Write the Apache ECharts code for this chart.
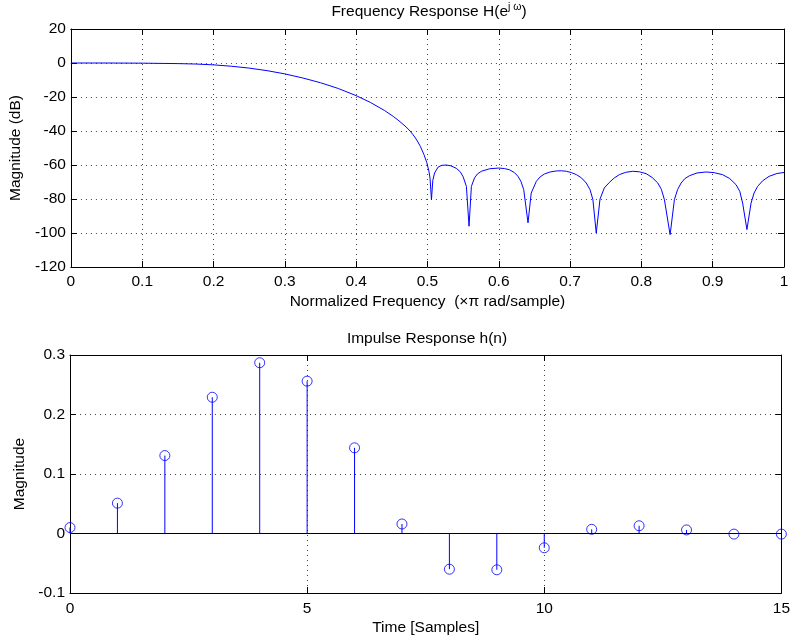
<!DOCTYPE html>
<html>
<head>
<meta charset="utf-8">
<script src="https://cdn.jsdelivr.net/npm/echarts@6/dist/echarts.min.js"></script>
<style>
  html, body { margin: 0; padding: 0; background: #fff; }
  #chart { width: 793px; height: 643px; }
</style>
</head>
<body>
<div id="chart"></div>
<script>
// magnitude response: normalized frequency (x pi rad/sample) and dB
const freqPts = [
  0, 0.05, 0.1, 0.15, 0.175, 0.2, 0.225, 0.25, 0.275, 0.3, 0.325, 0.35, 0.375, 0.4,
  0.42, 0.44, 0.452, 0.46, 0.47, 0.4756, 0.48, 0.485, 0.49, 0.495, 0.499, 0.502, 0.5036, 0.5056,
  0.5075, 0.510, 0.515, 0.520, 0.5266, 0.533, 0.5406, 0.546, 0.550, 0.5546, 0.5583,
  0.5616, 0.566, 0.570, 0.5756, 0.5873, 0.600, 0.608, 0.615, 0.622, 0.627, 0.631, 0.635, 0.641,
  0.6455, 0.6527, 0.658, 0.664, 0.672, 0.6807, 0.688, 0.695, 0.702, 0.709, 0.716, 0.7227, 0.728, 0.732, 0.7367,
  0.742, 0.748, 0.755, 0.762, 0.769, 0.778, 0.788, 0.797, 0.8067, 0.815, 0.823, 0.828, 0.8323, 0.8403,
  0.8463, 0.8507, 0.8557, 0.861, 0.8674, 0.878, 0.8907, 0.902, 0.914, 0.924, 0.9328, 0.938, 0.942, 0.948,
  0.9538, 0.958, 0.963, 0.970, 0.979, 0.990, 1.0
];
const magDb = [
  0, 0, -0.1, -0.35, -0.6, -1.1, -1.9, -3.0, -4.5, -6.4, -8.8, -11.6, -15.0, -19.2,
  -23.2, -28.0, -31.4, -34.0, -37.6, -40.0, -42.3, -45.3, -49.0, -53.8, -58.5, -63.5, -67.7, -80.4,
  -69.0, -64.7, -61.2, -60.2, -60.0, -60.5, -62.0, -64.0, -66.9, -72.6, -96,
  -72.6, -67.6, -65.3, -63.7, -62.2, -61.8, -62.1, -62.8, -64.5, -66.7, -69.6, -74.5, -94,
  -76.5, -69.6, -67.0, -65.3, -64.1, -63.5, -63.4, -63.7, -64.5, -65.7, -67.6, -70.6, -74.5, -80.4, -100,
  -80.0, -73.5, -70.3, -67.6, -65.7, -64.3, -63.7, -64.0, -65.1, -67.3, -70.6, -74.3, -80.4, -101,
  -80.4, -74.5, -70.6, -68.0, -66.3, -64.7, -64.1, -64.5, -65.7, -68.0, -71.6, -75.5, -82.4, -98,
  -82.4, -76.5, -72.6, -69.3, -66.7, -65.0, -64.4
];

// impulse response h(n)
const samples = [0, 1, 2, 3, 4, 5, 6, 7, 8, 9, 10, 11, 12, 13, 14, 15];
const hValues = [
  0.010, 0.051, 0.131, 0.229, 0.287, 0.256, 0.144, 0.016,
  -0.060, -0.061, -0.024, 0.007, 0.013, 0.006, -0.001, -0.001
];

const freqData = freqPts.map((f, i) => [f, magDb[i]]);
const stemData = samples.map((n, i) => [n, hValues[i]]);

const fontFamily = '"Liberation Sans", Arial, Helvetica, sans-serif';
const fontSize = 15.5;
const black = '#000';
const blue = '#0000ff';

function fmt(v) {
  return String(parseFloat(v.toFixed(2)));
}

// main axis (with labels and dotted grid) and a mirrored one for the box
function makeAxis(opts, main) {
  return Object.assign({
    type: 'value',
    axisLine: { show: true, onZero: false, lineStyle: { color: black, width: 1 } },
    axisTick: { show: true, inside: true, length: 6, lineStyle: { color: black } },
    axisLabel: {
      show: main, color: black, fontSize: fontSize, fontFamily: fontFamily,
      margin: 5, formatter: fmt
    },
    splitLine: {
      show: main,
      lineStyle: { color: '#444', type: [1, 4], width: 1 }
    },
    nameTextStyle: { color: black, fontSize: fontSize, fontFamily: fontFamily }
  }, opts);
}

function xLabel(margin) {
  return { show: true, color: black, fontSize: fontSize, fontFamily: fontFamily, margin: margin, formatter: fmt };
}

const chart = echarts.init(document.getElementById('chart'), null, { renderer: 'canvas' });

const option = {
  animation: false,
  backgroundColor: '#fff',
  title: [
    {
      text: 'Frequency Response H(e{sup|j ω})',
      left: 429, top: 2, textAlign: 'center', padding: 0,
      textStyle: {
        color: black, fontSize: fontSize, fontWeight: 'normal', fontFamily: fontFamily,
        lineHeight: 20,
        rich: {
          sup: { fontSize: 10.5, fontFamily: fontFamily, color: black, verticalAlign: 'top', lineHeight: 12 }
        }
      }
    },
    {
      text: 'Impulse Response h(n)',
      left: 427, top: 330, textAlign: 'center', padding: 0,
      textStyle: { color: black, fontSize: fontSize, fontWeight: 'normal', fontFamily: fontFamily, lineHeight: 18 }
    }
  ],
  grid: [
    { left: 70, top: 29, width: 714, height: 238 },
    { left: 70, top: 355, width: 714, height: 238 }
  ],
  xAxis: [
    makeAxis({
      gridIndex: 0, position: 'bottom', min: 0, max: 1, interval: 0.1,
      name: 'Normalized Frequency  (×π rad/sample)', nameLocation: 'middle', nameGap: 27,
      axisLabel: xLabel(7)
    }, true),
    makeAxis({ gridIndex: 0, position: 'top', min: 0, max: 1, interval: 0.1 }, false),
    makeAxis({
      gridIndex: 1, position: 'bottom', min: 0, max: 15, interval: 5,
      name: 'Time [Samples]', nameLocation: 'middle', nameGap: 27,
      axisLabel: xLabel(8)
    }, true),
    makeAxis({ gridIndex: 1, position: 'top', min: 0, max: 15, interval: 5 }, false)
  ],
  yAxis: [
    makeAxis({
      gridIndex: 0, position: 'left', min: -120, max: 20, interval: 20,
      name: 'Magnitude (dB)', nameLocation: 'middle', nameGap: 39
    }, true),
    makeAxis({ gridIndex: 0, position: 'right', min: -120, max: 20, interval: 20 }, false),
    makeAxis({
      gridIndex: 1, position: 'left', min: -0.1, max: 0.3, interval: 0.1,
      name: 'Magnitude', nameLocation: 'middle', nameGap: 34
    }, true),
    makeAxis({ gridIndex: 1, position: 'right', min: -0.1, max: 0.3, interval: 0.1 }, false)
  ],
  series: [
    {
      name: 'magnitude',
      type: 'line',
      xAxisIndex: 0, yAxisIndex: 0,
      data: freqData,
      showSymbol: false,
      lineStyle: { color: blue, width: 1 },
      clip: true
    },
    {
      name: 'stems',
      type: 'custom',
      xAxisIndex: 2, yAxisIndex: 2,
      data: stemData,
      renderItem: function (params, api) {
        const p0 = api.coord([api.value(0), 0]);
        const p1 = api.coord([api.value(0), api.value(1)]);
        return {
          type: 'line',
          shape: { x1: p0[0], y1: p0[1], x2: p1[0], y2: p1[1] },
          style: { stroke: blue, lineWidth: 1 }
        };
      },
      z: 2
    },
    {
      name: 'h(n)',
      type: 'scatter',
      xAxisIndex: 2, yAxisIndex: 2,
      data: stemData,
      symbol: 'circle',
      symbolSize: 10,
      itemStyle: { color: 'rgba(0,0,0,0)', borderColor: blue, borderWidth: 1 },
      clip: false,
      z: 3,
      markLine: {
        silent: true,
        symbol: ['none', 'none'],
        label: { show: false },
        lineStyle: { color: black, width: 1, type: 'solid' },
        data: [{ yAxis: 0 }]
      }
    }
  ]
};

chart.setOption(option);
</script>
</body>
</html>
